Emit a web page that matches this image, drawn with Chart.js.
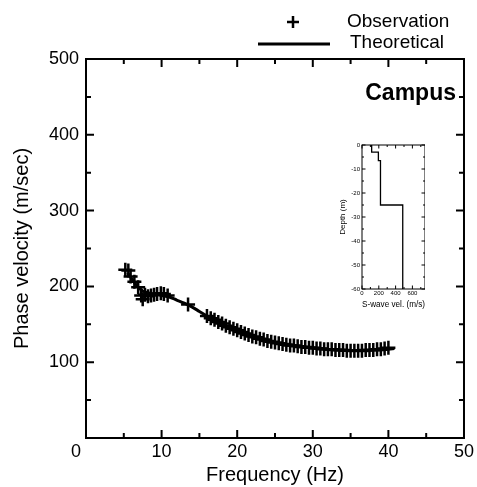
<!DOCTYPE html>
<html><head><meta charset="utf-8">
<script src="https://cdn.jsdelivr.net/npm/chart.js@4/dist/chart.umd.min.js"></script>
<style>
html,body{margin:0;padding:0;background:#fff;overflow:hidden}
#wrap{position:relative;width:477px;height:487px;background:#fff}
#main{position:absolute;left:0;top:0}
#inset{position:absolute;left:330px;top:138px}
</style></head>
<body><div id="wrap"><canvas id="main" width="477" height="487"></canvas><canvas id="inset" width="95" height="172"></canvas></div>
<script>
// ---- Main chart data ----
const obsFreq = [5.2, 5.6, 5.9, 6.4, 6.9, 7.3, 7.5, 7.8, 8.2, 8.6, 9.0, 9.4, 9.9, 10.3, 10.8, 13.5,
  16.0, 16.5, 17.0, 17.5, 18.0, 18.5, 19.0, 19.5, 20.0, 20.5, 21.0, 21.5, 22.0, 22.5, 23.0, 23.5,
  24.0, 24.5, 25.0, 25.5, 26.0, 26.5, 27.0, 27.5, 28.0, 28.5, 29.0, 29.5, 30.0, 30.5, 31.0, 31.5,
  32.0, 32.5, 33.0, 33.5, 34.0, 34.5, 35.0, 35.5, 36.0, 36.5, 37.0, 37.5, 38.0, 38.5, 39.0, 39.5, 40.0];
const obsVel = [222, 221, 213, 206, 199, 188, 183, 189, 187, 188, 189, 190, 191, 190, 188, 176,
  161, 158, 156, 153, 151, 148, 146, 144, 142, 140, 138, 136, 134, 133, 131, 130,
  128, 127, 126, 125, 124, 123, 122, 122, 121, 120, 120, 119, 119, 118, 118, 117,
  117, 117, 116, 116, 116, 115, 115, 115, 115, 115, 116, 116, 116, 117, 117, 118, 119];
const theoFreq = [5.5, 6, 6.5, 7, 7.5, 8, 9, 10, 11, 12, 13, 14, 15, 16, 17, 18, 19, 20, 21, 22, 23, 24, 25,
  26, 27, 28, 29, 30, 31, 32, 33, 34, 35, 36, 37, 38, 39, 40, 40.8];
const theoVel = [218, 211, 204, 198, 194, 192, 190, 188, 186, 182, 178, 173, 167, 161, 155, 150, 146, 142, 138,
  134, 131, 129, 126, 124, 123, 121, 120, 119, 118, 117, 116, 116, 115, 115, 115, 116, 116, 117, 118];
const xMajorTicks = [0, 10, 20, 30, 40, 50];
const xMinorTicks = [5, 15, 25, 35, 45];
const yMajorTicks = [0, 100, 200, 300, 400, 500];
const yMinorTicks = [50, 150, 250, 350, 450];
const seriesLabels = ['Observation', 'Theoretical'];
const siteName = 'Campus';

// ---- Inset data (S-wave velocity profile) ----
const layerVs = [115, 195, 220, 485];
const layerTop = [0, 3, 6.5, 25];
const layerBottom = [3, 6.5, 25, 60];
const insetXMajor = [0, 200, 400, 600];
const insetXMinor = [100, 300, 500, 700];
const insetYMajor = [0, -10, -20, -30, -40, -50, -60];
const insetYMinor = [-5, -15, -25, -35, -45, -55];

const FONT = "'Liberation Sans', Arial, sans-serif";
Chart.defaults.font.family = FONT;
Chart.defaults.color = '#000';

const boxTicks = {
  id: 'boxTicks',
  afterDatasetsDraw(chart, args, o) {
    const {ctx, chartArea: a, scales: {x, y}} = chart;
    ctx.save();
    ctx.strokeStyle = '#000';
    ctx.lineWidth = o.lw;
    ctx.beginPath();
    const drawX = (vals, len) => vals.forEach(v => {
      const px = x.getPixelForValue(v);
      ctx.moveTo(px, a.bottom); ctx.lineTo(px, a.bottom - len);
      ctx.moveTo(px, a.top); ctx.lineTo(px, a.top + len);
    });
    const drawY = (vals, len) => vals.forEach(v => {
      const py = y.getPixelForValue(v);
      ctx.moveTo(a.left, py); ctx.lineTo(a.left + len, py);
      ctx.moveTo(a.right, py); ctx.lineTo(a.right - len, py);
    });
    drawX(o.xMajor, o.major); drawX(o.xMinor, o.minor);
    drawY(o.yMajor, o.major); drawY(o.yMinor, o.minor);
    ctx.stroke();
    ctx.strokeRect(a.left, a.top, a.right - a.left, a.bottom - a.top);
    ctx.restore();
  }
};

const extras = {
  id: 'extras',
  afterDraw(chart) {
    const {ctx, chartArea: a} = chart;
    ctx.save();
    ctx.fillStyle = '#000';
    ctx.strokeStyle = '#000';
    // legend
    ctx.lineWidth = 2.5;
    ctx.beginPath();
    ctx.moveTo(293, 16); ctx.lineTo(293, 28);
    ctx.moveTo(287, 22); ctx.lineTo(299, 22);
    ctx.stroke();
    ctx.lineWidth = 3;
    ctx.beginPath();
    ctx.moveTo(258, 44); ctx.lineTo(330, 44);
    ctx.stroke();
    ctx.font = '19px ' + FONT;
    ctx.textBaseline = 'middle';
    ctx.textAlign = 'left';
    ctx.fillText(chart.data.datasets[0].label, 347, 22);
    ctx.fillText(chart.data.datasets[1].label, 350, 43);
    // site label
    ctx.font = 'bold 23px ' + FONT;
    ctx.textAlign = 'right';
    ctx.fillText(siteName, a.right - 8, 94);
    ctx.restore();
  }
};

new Chart(document.getElementById('main'), {
  type: 'scatter',
  data: {
    datasets: [
      {
        label: seriesLabels[0],
        data: obsFreq.map((f, i) => ({x: f, y: obsVel[i]})),
        showLine: false,
        pointStyle: 'cross',
        pointRadius: 7,
        pointBorderWidth: 2.5,
        borderColor: '#000',
        backgroundColor: '#000'
      },
      {
        label: seriesLabels[1],
        data: theoFreq.map((f, i) => ({x: f, y: theoVel[i]})),
        showLine: true,
        pointRadius: 0,
        borderWidth: 3,
        borderColor: '#000',
        cubicInterpolationMode: 'monotone'
      }
    ]
  },
  options: {
    responsive: false,
    animation: false,
    layout: {padding: {left: 0, right: 10, top: 59, bottom: 0}},
    plugins: {
      legend: {display: false},
      tooltip: {enabled: false},
      boxTicks: {xMajor: xMajorTicks, xMinor: xMinorTicks, yMajor: yMajorTicks, yMinor: yMinorTicks, major: 8, minor: 5, lw: 2}
    },
    scales: {
      x: {
        type: 'linear', min: 0, max: 50,
        afterBuildTicks: s => { s.ticks = xMajorTicks.map(v => ({value: v})); },
        ticks: {font: {size: 18}, padding: 3, color: '#000', maxRotation: 0,
          callback: v => v === 0 ? '0    ' : String(v)},
        grid: {display: false, drawTicks: false},
        border: {display: false},
        title: {display: true, text: 'Frequency (Hz)', font: {size: 20}, color: '#000', padding: {top: 0, bottom: 0}},
        afterFit: s => { s.height = 49; }
      },
      y: {
        type: 'linear', min: 0, max: 500,
        afterBuildTicks: s => { s.ticks = yMajorTicks.map(v => ({value: v})); },
        ticks: {font: {size: 18}, padding: 7, color: '#000', callback: v => v === 0 ? '' : String(v)},
        grid: {display: false, drawTicks: false},
        border: {display: false},
        title: {display: true, text: 'Phase velocity (m/sec)', font: {size: 20}, color: '#000', padding: {top: 10, bottom: 0}},
        afterFit: s => { s.width = 86; }
      }
    }
  },
  plugins: [boxTicks, extras]
});

// ---- Inset chart ----
const profile = [];
layerVs.forEach((v, i) => {
  profile.push({x: v, y: -layerTop[i]});
  profile.push({x: v, y: -layerBottom[i]});
});

new Chart(document.getElementById('inset'), {
  type: 'scatter',
  data: {datasets: [{data: profile, showLine: true, pointRadius: 0, borderWidth: 1.3, borderColor: '#000'}]},
  options: {
    responsive: false,
    animation: false,
    layout: {padding: {left: 0, right: 0, top: 7, bottom: 0}},
    plugins: {
      legend: {display: false},
      tooltip: {enabled: false},
      boxTicks: {xMajor: insetXMajor, xMinor: insetXMinor, yMajor: insetYMajor, yMinor: insetYMinor, major: 3.5, minor: 2, lw: 1}
    },
    scales: {
      x: {
        type: 'linear', min: 0, max: 750,
        afterBuildTicks: s => { s.ticks = insetXMajor.map(v => ({value: v})); },
        ticks: {font: {size: 6}, padding: 1, color: '#000', maxRotation: 0, autoSkip: false},
        grid: {display: false, drawTicks: false},
        border: {display: false},
        title: {display: true, text: 'S-wave vel. (m/s)', font: {size: 9}, color: '#000', padding: {top: 0, bottom: 0}},
        afterFit: s => { s.height = 21; }
      },
      y: {
        type: 'linear', min: -60, max: 0,
        afterBuildTicks: s => { s.ticks = insetYMajor.map(v => ({value: v})); },
        ticks: {font: {size: 6}, padding: 2, color: '#000', autoSkip: false},
        grid: {display: false, drawTicks: false},
        border: {display: false},
        title: {display: true, text: 'Depth (m)', font: {size: 8}, color: '#000', padding: {top: 8, bottom: 0}},
        afterFit: s => { s.width = 32; }
      }
    }
  },
  plugins: [boxTicks]
});
</script>
</body></html>
